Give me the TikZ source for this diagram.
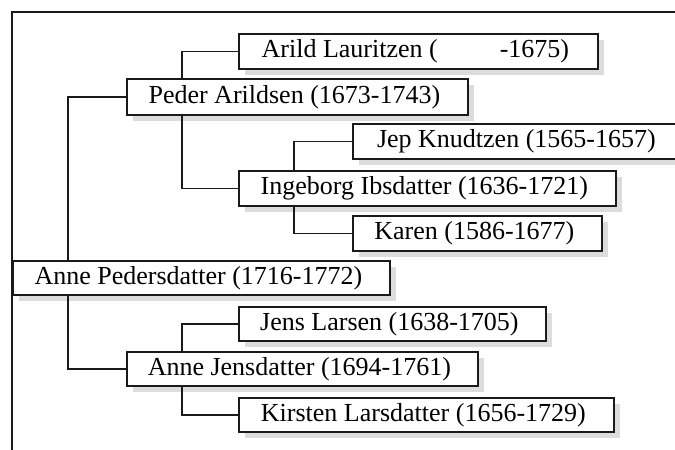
\documentclass[tikz,border=0pt]{standalone}
\usepackage{fontspec}
\setmainfont{Liberation Serif}
\usetikzlibrary{shadows}
\definecolor{lineclr}{HTML}{1A1A1A}
\definecolor{shadowclr}{HTML}{DCDCDC}
\tikzset{
  person/.style={draw=lineclr, line width=1.8pt, fill=white, minimum height=35pt,
    inner sep=0pt, anchor=north west, font=\fontsize{26}{28}\selectfont,
    execute at end node={\hspace{6pt}},
    drop shadow={shadow xshift=6pt, shadow yshift=-6pt, fill=shadowclr, opacity=1}},
  link/.style={draw=lineclr, line width=1.8pt},
  frame/.style={draw=lineclr, line width=1.8pt}
}
\begin{document}
\begin{tikzpicture}[x=1pt,y=-1pt]
\useasboundingbox (0,0) rectangle (675,450);
\draw[frame] (12,460) -- (12,12) -- (690,12);
\node[person, minimum width=359pt] (arild) at (238,33) {Arild Lauritzen (\hspace{62pt}-1675)};
\node[person, minimum width=341pt, minimum height=36pt] (peder) at (126,78) {Peder Arildsen (1673-1743)};
\node[person, minimum width=333pt] (jep) at (352,123) {Jep Knudtzen (1565-1657)};
\node[person, minimum width=377pt] (ingeborg) at (238,170) {Ingeborg Ibsdatter (1636-1721)};
\node[person, minimum width=249pt] (karen) at (352,215) {Karen (1586-1677)};
\node[person, minimum width=377pt, minimum height=34pt] (annep) at (12,260) {Anne Pedersdatter (1716-1772)};
\node[person, minimum width=307pt, minimum height=34pt] (jens) at (238,306) {Jens Larsen (1638-1705)};
\node[person, minimum width=351pt, minimum height=34pt] (annej) at (126,351) {Anne Jensdatter (1694-1761)};
\node[person, minimum width=375pt, minimum height=34pt] (kirsten) at (238,397) {Kirsten Larsdatter (1656-1729)};
\draw[link] ([xshift=56pt]annep.north west) |- (peder.west);
\draw[link] ([xshift=56pt]annep.south west) |- (annej.west);
\draw[link] ([xshift=56pt]peder.north west) |- (arild.west);
\draw[link] ([xshift=56pt]peder.south west) |- (ingeborg.west);
\draw[link] ([xshift=56pt]ingeborg.north west) |- (jep.west);
\draw[link] ([xshift=56pt]ingeborg.south west) |- (karen.west);
\draw[link] ([xshift=56pt]annej.north west) |- (jens.west);
\draw[link] ([xshift=56pt]annej.south west) |- (kirsten.west);
\end{tikzpicture}
\end{document}
